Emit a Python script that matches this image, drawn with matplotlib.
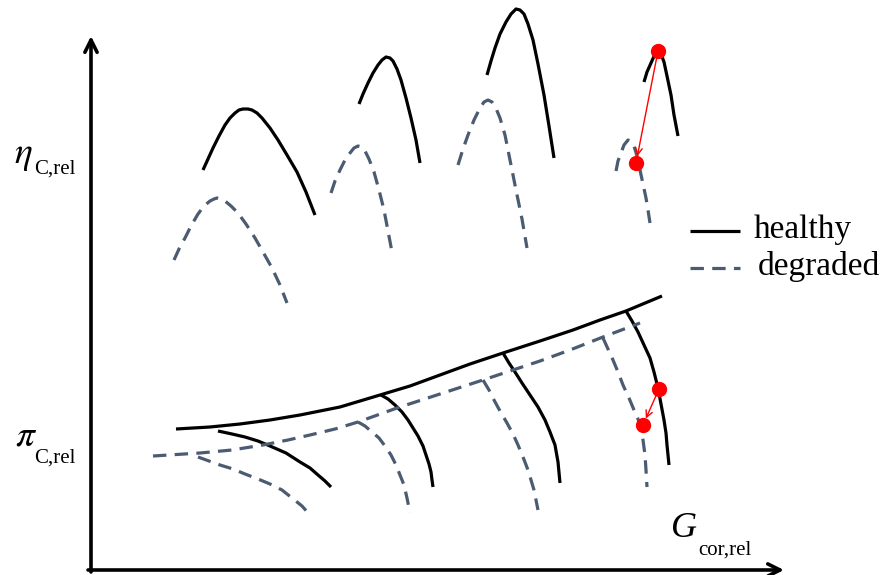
import numpy as np
import matplotlib.pyplot as plt

plt.rcParams['mathtext.fontset'] = 'stix'
plt.rcParams['font.family'] = ['Liberation Serif', 'DejaVu Serif']

# efficiency characteristics (x, y), one curve per speed line
eta_healthy = [
    [(203, 170), (208, 159), (213, 148), (219, 136), (225, 125), (230, 118), (235, 113), (239, 110), (243, 109),
     (248, 109), (252, 110), (257, 113), (262, 118), (270, 128), (278, 140), (287, 155), (297, 172), (306, 192), (315, 215)],
    [(359, 104), (363, 94), (368, 83), (373, 73), (378, 65), (382, 60), (386, 57), (390, 58), (393, 61),
     (397, 69), (401, 80), (406, 98), (411, 118), (416, 140), (420, 163)],
    [(487, 75), (491, 61), (495, 48), (500, 34), (506, 22), (511, 14), (516, 9), (520, 10), (524, 14),
     (528, 24), (533, 40), (538, 64), (544, 95), (549, 126), (554, 158)],
    [(644, 82), (647, 72), (651, 63), (655, 54), (658, 50), (661, 54), (664, 62), (667, 76), (671, 95), (674, 115), (678, 136)],
]
eta_degraded = [
    [(174, 260), (179, 249), (185, 238), (191, 226), (198, 214), (204, 206), (210, 201), (214, 199), (217, 198),
     (221, 199), (225, 201), (231, 206), (238, 213), (246, 224), (255, 238), (263, 252), (272, 268), (280, 285), (287, 303)],
    [(331, 193), (335, 181), (340, 170), (345, 160), (350, 153), (354, 148), (358, 146), (362, 147), (365, 151),
     (369, 159), (374, 172), (379, 190), (384, 210), (388, 231), (392, 252)],
    [(458, 165), (463, 149), (468, 135), (474, 120), (480, 108), (484, 102), (488, 100), (492, 102), (495, 106),
     (500, 118), (505, 135), (510, 160), (516, 190), (522, 219), (527, 248)],
    [(616, 171), (618, 161), (621, 153), (624, 145), (628, 140), (631, 141), (634, 146), (637, 156), (640, 170),
     (643, 184), (646, 198), (648, 210), (650, 223)],
]

# surge lines
surge_healthy = [(176, 429), (210, 427), (240, 424), (270, 420), (300, 415), (340, 407), (380, 395), (410, 386),
                 (440, 375), (470, 364), (503, 353), (540, 341), (573, 330), (600, 320), (626, 311), (662, 296)]
surge_degraded = [(153, 456), (200, 453), (232, 450), (263, 445), (288, 440), (310, 435), (335, 429), (358, 422),
                  (397, 408), (440, 394), (483, 380), (510, 371), (540, 361), (570, 350), (603, 337), (640, 323)]

# pressure ratio speed lines
pi_healthy = [
    [(218, 431), (232, 434), (245, 437), (258, 441), (270, 446), (286, 453), (300, 462), (310, 468), (318, 475), (325, 481), (331, 487)],
    [(381, 395), (388, 399), (395, 405), (402, 412), (408, 420), (413, 428), (418, 436), (423, 446), (426, 455),
     (429, 464), (431, 472), (432, 480), (433, 487)],
    [(503, 353), (509, 363), (515, 372), (522, 383), (530, 395), (538, 407), (545, 420), (550, 432), (555, 445),
     (558, 462), (560, 483)],
    [(626, 311), (632, 321), (638, 332), (644, 345), (650, 358), (654, 372), (658, 388), (661, 404), (664, 420),
     (666, 433), (667, 445), (668, 455), (669, 465)],
]
pi_degraded = [
    [(198, 457), (209, 461), (220, 465), (233, 469), (245, 474), (258, 479), (270, 484), (282, 490), (292, 498), (302, 506), (310, 515)],
    [(358, 422), (365, 426), (372, 432), (379, 438), (385, 446), (391, 455), (396, 465), (400, 475), (404, 485),
     (407, 498), (410, 513)],
    [(483, 380), (489, 390), (494, 400), (500, 411), (507, 423), (513, 434), (518, 445), (523, 457), (528, 470),
     (531, 480), (534, 490), (536, 500), (538, 510)],
    [(603, 338), (608, 349), (613, 360), (618, 372), (623, 385), (629, 398), (634, 410), (638, 419), (641, 428),
     (643, 440), (645, 455), (646, 470), (647, 487)],
]

# operating point shift (healthy -> degraded)
shift_eta = [(658, 51), (636, 163)]
shift_pi = [(659, 389), (643, 425)]

dash_col = '#4b5b71'
solid_kw = dict(color='black', lw=2.3, solid_capstyle='butt', solid_joinstyle='round')
dash_kw = dict(color=dash_col, lw=2.3, dashes=(4.2, 2.6), dash_capstyle='butt', dash_joinstyle='round')

fig = plt.figure(figsize=(8.89, 5.75), dpi=100)
ax = fig.add_axes([0, 0, 1, 1])
ax.set_xlim(0, 889)
ax.set_ylim(575, 0)
ax.axis('off')

for c in eta_healthy + pi_healthy + [surge_healthy]:
    c = np.array(c)
    ax.plot(c[:, 0], c[:, 1], **solid_kw)
for c in eta_degraded + pi_degraded + [surge_degraded]:
    c = np.array(c)
    ax.plot(c[:, 0], c[:, 1], **dash_kw)

for p in (shift_eta, shift_pi):
    ax.annotate('', xy=p[1], xytext=p[0],
                arrowprops=dict(arrowstyle='->', color='red', lw=1.0,
                                shrinkA=0, shrinkB=5, mutation_scale=12))
    p = np.array(p)
    ax.plot(p[:, 0], p[:, 1], 'o', color='red', ms=10, mec='red')

# axes arrows
ax.annotate('', xy=(91, 36), xytext=(91, 572),
            arrowprops=dict(arrowstyle='->', color='black', lw=2.6,
                            shrinkA=0, shrinkB=0, mutation_scale=22))
ax.annotate('', xy=(784, 570), xytext=(88, 570),
            arrowprops=dict(arrowstyle='->', color='black', lw=2.6,
                            shrinkA=0, shrinkB=0, mutation_scale=22))

# axis symbols with subscripts
ax.text(14, 163, r'$\eta$', fontsize=27, va='baseline', ha='left')
ax.text(34, 174, 'C,rel', fontsize=15, va='baseline', ha='left')
ax.text(15, 445, r'$\pi$', fontsize=27, va='baseline', ha='left')
ax.text(34, 463, 'C,rel', fontsize=15, va='baseline', ha='left')
ax.text(671, 537, 'G', fontsize=26, style='italic', va='baseline', ha='left')
ax.text(698, 555, 'cor,rel', fontsize=15, va='baseline', ha='left')

# legend
ax.plot([690, 740], [231, 231], **solid_kw)
ax.plot([690, 740], [268, 268], **dash_kw)
ax.text(754, 238, 'healthy', fontsize=24, va='baseline', ha='left')
ax.text(758, 275, 'degraded', fontsize=24, va='baseline', ha='left')

fig.savefig('out.png', dpi=100)
